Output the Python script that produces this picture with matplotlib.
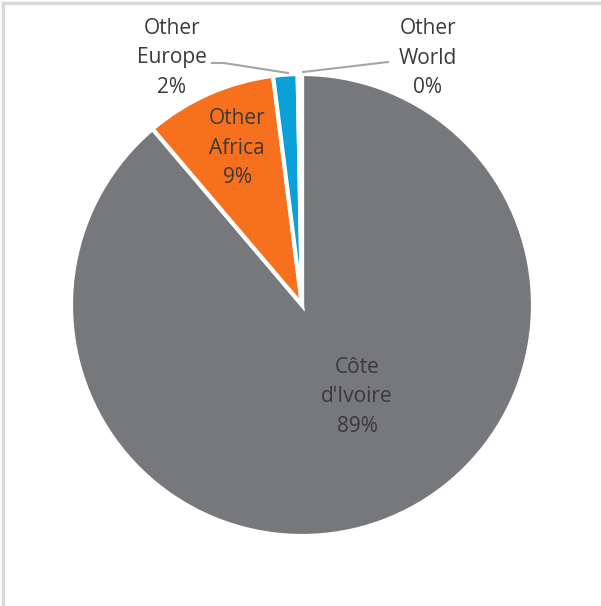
import matplotlib.pyplot as plt

plt.rcParams['font.family'] = ['Open Sans', 'DejaVu Sans']

names = ['Côte\nd\'Ivoire', 'Other\nAfrica', 'Other\nEurope', 'Other\nWorld']
shares = [88.8, 9.2, 1.7, 0.3]
colors = ['#77787b', '#f7701e', '#0ca0d8', '#a5a5a5']

W, H = 601, 606
fig = plt.figure(figsize=(W / 100, H / 100), dpi=100)
ax = fig.add_axes([0, 0, 1, 1])

cx, cy, r = 302, H - 305, 231
wedges, _ = ax.pie(shares, colors=colors, startangle=90, counterclock=False,
                   center=(cx, cy), radius=r,
                   wedgeprops=dict(edgecolor='white', linewidth=3))
ax.set_xlim(0, W)
ax.set_ylim(0, H)
ax.set_aspect('auto')
ax.axis('off')

labels = [f'{n}\n{round(s):d}%' for n, s in zip(names, shares)]
pos = [(357, 397), (237, 148), (172, 58), (428, 58)]
for lab, (x, y) in zip(labels, pos):
    ax.text(x, H - y, lab, ha='center', va='center', fontsize=15,
            color='#3a3a3a', linespacing=1.55)

# leader lines for the small slices
ax.plot([212, 224, 288], [H - 63, H - 63, H - 73], color='#a5a5a5', lw=1.5)
ax.plot([303, 388], [H - 72, H - 62], color='#a5a5a5', lw=1.5)

# frame on top and left edge
ax.plot([3, W], [H - 3, H - 3], color='#d9d9d9', lw=2.5)
ax.plot([3, 3], [0, H - 3], color='#d9d9d9', lw=2.5)

fig.savefig('out.png', dpi=100)
